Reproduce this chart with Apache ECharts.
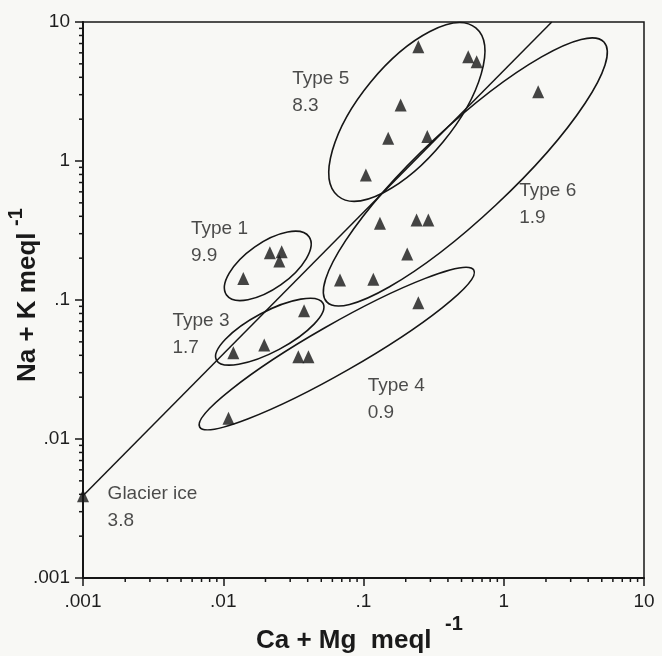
<!DOCTYPE html>
<html>
<head>
<meta charset="utf-8">
<script src="https://cdn.jsdelivr.net/npm/echarts@6/dist/echarts.min.js"></script>
<style>
  html, body { margin: 0; padding: 0; background: #f8f8f5; }
  #chart { width: 662px; height: 656px; }
</style>
</head>
<body>
<div id="chart"></div>
<script>
// tick labels, one per decade from 0.001 to 10
const tickLabels = ['.001', '.01', '.1', '1', '10'];
const minorSteps = [2, 3, 4, 5, 6, 7, 8, 9];

// samples: [Ca + Mg, Na + K] in meq/l
const glacierIce = [[0.001, 0.0039]];
const type1 = [[0.0139, 0.143], [0.0215, 0.219], [0.0261, 0.222], [0.0251, 0.191]];
const type3 = [[0.0118, 0.0418], [0.0196, 0.0474], [0.0377, 0.0837]];
const type4 = [[0.0109, 0.0141], [0.0343, 0.0391], [0.0405, 0.0391], [0.246, 0.0957]];
const type5 = [[0.104, 0.793], [0.150, 1.46], [0.285, 1.50], [0.184, 2.53], [0.246, 6.64], [0.558, 5.63], [0.641, 5.18]];
const type6 = [[0.068, 0.139], [0.1175, 0.141], [0.131, 0.356], [0.205, 0.214], [0.239, 0.377], [0.290, 0.377], [1.76, 3.15]];

// group labels and their ratios
const groupNames = ['Glacier ice', 'Type 1', 'Type 3', 'Type 4', 'Type 5', 'Type 6'];
const groupRatios = ['3.8', '9.9', '1.7', '0.9', '8.3', '1.9'];
const labelAnchors = [[0.00151, 0.00502], [0.00593, 0.405], [0.00438, 0.0883], [0.108, 0.0301], [0.0313, 4.86], [1.30, 0.760]];

// line from glacier ice up to the top of the frame
const mixingLine = [[0.001, 0.0039], [2.2, 10]];

// envelopes round each group: ends of the long axis (data), half width in px
const envelopes = [
  { ends: [[0.01055, 0.1087], [0.0409, 0.285]], half: 23 },   // type 1
  { ends: [[0.00894, 0.037], [0.0515, 0.0946]], half: 20 },   // type 3
  { ends: [[0.00679, 0.0122], [0.612, 0.164]], half: 24 },    // type 4
  { ends: [[0.0657, 0.560], [0.632, 9.06]], half: 47 },       // type 5
  { ends: [[0.0547, 0.0969], [5.18, 7.18]], half: 45 }        // type 6
];

const ink = '#161616';
const font = 'Liberation Sans, Arial, Helvetica, sans-serif';

const chart = echarts.init(document.getElementById('chart'));

const axisCommon = {
  type: 'log',
  logBase: 10,
  min: 0.001,
  max: 10,
  axisLine: { show: true, onZero: false, lineStyle: { color: ink, width: 2 } },
  axisTick: { show: true, inside: false, length: 8, lineStyle: { color: ink, width: 1.5 } },
  minorTick: { show: false },
  splitLine: { show: false },
  axisLabel: {
    color: '#1e1e1e',
    fontFamily: font,
    fontSize: 19,
    formatter: v => tickLabels[Math.round(Math.log10(v)) + 3]
  }
};

const triangles = (name, data) => ({
  name,
  type: 'scatter',
  data,
  symbol: 'triangle',
  symbolSize: [12, 13],
  itemStyle: { color: ink },
  z: 4
});

chart.setOption({
  backgroundColor: '#f8f8f5',
  animation: false,
  grid: { left: 83, right: 18, top: 22, bottom: 78, show: true, borderColor: ink, borderWidth: 1.5 },
  xAxis: Object.assign({}, axisCommon, {
    axisLabel: Object.assign({}, axisCommon.axisLabel, { margin: 14 })
  }),
  yAxis: Object.assign({}, axisCommon, {
    axisLabel: Object.assign({}, axisCommon.axisLabel, { margin: 13 })
  }),
  series: [
    {
      type: 'line',
      data: mixingLine,
      symbol: 'none',
      lineStyle: { color: ink, width: 1.5 },
      z: 3
    },
    triangles('Glacier ice', glacierIce),
    triangles('Type 1', type1),
    triangles('Type 3', type3),
    triangles('Type 4', type4),
    triangles('Type 5', type5),
    triangles('Type 6', type6),
    {
      type: 'scatter',
      data: labelAnchors.map((p, i) => ({ value: p, name: groupNames[i] + '\n' + groupRatios[i] })),
      symbol: 'circle',
      symbolSize: 1,
      itemStyle: { color: 'rgba(0,0,0,0)' },
      label: {
        show: true,
        position: [0, 0],
        align: 'left',
        verticalAlign: 'top',
        formatter: p => p.name,
        color: '#1e1e1e',
        fontFamily: font,
        fontSize: 19,
        lineHeight: 27
      },
      z: 5
    }
  ]
});

// envelopes, minor ticks and axis titles placed through the axes
const toPx = p => chart.convertToPixel({ gridIndex: 0 }, p);
const graphics = [];

envelopes.forEach(env => {
  const a = toPx(env.ends[0]);
  const b = toPx(env.ends[1]);
  const dx = b[0] - a[0];
  const dy = b[1] - a[1];
  graphics.push({
    type: 'ellipse',
    x: (a[0] + b[0]) / 2,
    y: (a[1] + b[1]) / 2,
    rotation: Math.atan2(-dy, dx),
    shape: { cx: 0, cy: 0, rx: Math.sqrt(dx * dx + dy * dy) / 2, ry: env.half },
    style: { fill: 'none', stroke: ink, lineWidth: 1.6 },
    z: 2,
    silent: true
  });
});

const origin = toPx([0.001, 0.001]);
for (let e = -3; e < 1; e++) {
  minorSteps.forEach(k => {
    const v = k * Math.pow(10, e);
    const px = toPx([v, 0.001]);
    const py = toPx([0.001, v]);
    graphics.push({
      type: 'line', silent: true,
      shape: { x1: px[0], y1: origin[1], x2: px[0], y2: origin[1] + 4 },
      style: { stroke: ink, lineWidth: 1.5 }
    });
    graphics.push({
      type: 'line', silent: true,
      shape: { x1: origin[0] - 4, y1: py[1], x2: origin[0], y2: py[1] },
      style: { stroke: ink, lineWidth: 1.5 }
    });
  });
}

const titleFont = 'bold 26px ' + font;
const supFont = 'bold 20px ' + font;
graphics.push(
  { type: 'text', x: 256, y: 641, silent: true,
    style: { text: 'Ca + Mg  meql', font: titleFont, fill: '#1a1a1a', align: 'left', verticalAlign: 'middle' } },
  { type: 'text', x: 445, y: 624, silent: true,
    style: { text: '-1', font: supFont, fill: '#1a1a1a', align: 'left', verticalAlign: 'middle' } },
  { type: 'text', x: 28, y: 382, rotation: Math.PI / 2, silent: true,
    style: { text: 'Na + K meql', font: titleFont, fill: '#1a1a1a', align: 'left', verticalAlign: 'middle' } },
  { type: 'text', x: 16, y: 226, rotation: Math.PI / 2, silent: true,
    style: { text: '-1', font: supFont, fill: '#1a1a1a', align: 'left', verticalAlign: 'middle' } }
);

chart.setOption({ graphic: graphics });
</script>
</body>
</html>
